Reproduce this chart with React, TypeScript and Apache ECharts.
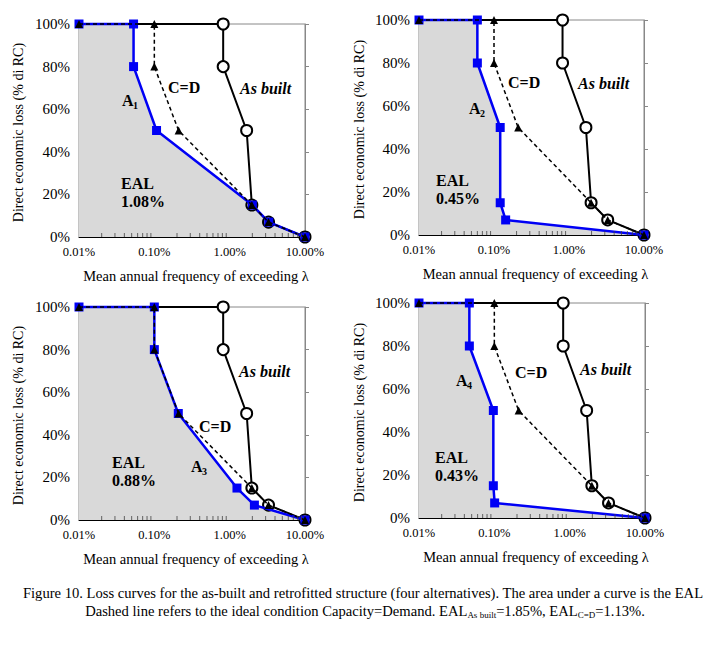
import React, { useEffect, useRef } from "react";
import * as echarts from "echarts";

// ---- data (MAF of exceedance in %, loss in % of RC) ----
const lossLevels = [100, 100, 80, 50, 15, 7, 0];
const asBuiltX = [0.01, 0.82, 0.82, 1.68, 1.97, 3.28, 10];
const cdX = [0.01, 0.1, 0.1, 0.21, 1.97, 3.28, 10];
const a1X = [0.01, 0.053, 0.053, 0.107, 2.0, 3.3, 10];
const a2X = [0.01, 0.06, 0.06, 0.121, 0.121, 0.143, 10];
const a3X = [0.01, 0.1, 0.1, 0.208, 1.25, 2.13, 10];
const a4X = [0.01, 0.0466, 0.0466, 0.097, 0.097, 0.101, 10];
const altNames = ["A1", "A2", "A3", "A4"];
const altX = [a1X, a2X, a3X, a4X];
const ealLabels = ["1.08%", "0.45%", "0.88%", "0.43%"];
const minorTicks = [
  0.02, 0.03, 0.04, 0.05, 0.06, 0.07, 0.08, 0.09,
  0.2, 0.3, 0.4, 0.5, 0.6, 0.7, 0.8, 0.9,
  2, 3, 4, 5, 6, 7, 8, 9,
];

// ---- layout ----
const grids = [
  { left: 79, top: 24, width: 226, height: 213 },
  { left: 419, top: 20, width: 225, height: 215 },
  { left: 79, top: 307, width: 226, height: 213 },
  { left: 419, top: 303, width: 226, height: 215 },
];
// annotation positions per panel
const ann = [
  { cd: [168, 87], ab: [240, 88], a: [122, 100], eal: [121, 183] },
  { cd: [508, 82], ab: [578, 83], a: [469, 108], eal: [436, 180] },
  { cd: [199, 426], ab: [239, 371], a: [191, 466], eal: [112, 462] },
  { cd: [515, 372], ab: [580, 369], a: [456, 380], eal: [435, 457] },
];

const SERIF = '"Liberation Serif", "Times New Roman", serif';
const BLUE = "#0000f5";

const pts = (xs: number[]) => xs.map((x, i) => [x, lossLevels[i]]);

function buildOption() {
  const xAxis: any[] = [];
  const yAxis: any[] = [];
  const series: any[] = [];
  const graphic: any[] = [];

  grids.forEach((g, i) => {
    xAxis.push({
      type: "log",
      logBase: 10,
      gridIndex: i,
      min: 0.01,
      max: 10,
      axisLine: { show: true, lineStyle: { color: "#000", width: 1 } },
      axisTick: { show: false },
      splitLine: { show: false },
      axisLabel: {
        color: "#000",
        fontFamily: SERIF,
        fontSize: 12.5,
        margin: 8,
        formatter: (v: number) => v.toFixed(2) + "%",
      },
    });
    yAxis.push({
      type: "value",
      gridIndex: i,
      min: 0,
      max: 100,
      interval: 20,
      axisLine: { show: true, lineStyle: { color: "#888", width: 1 } },
      axisTick: { show: false },
      splitLine: { show: false },
      axisLabel: {
        color: "#000",
        fontFamily: SERIF,
        fontSize: 15,
        margin: 9,
        formatter: (v: number) => v + "%",
      },
    });
    yAxis.push({
      type: "value",
      gridIndex: i,
      position: "right",
      min: 0,
      max: 100,
      interval: 20,
      axisLine: { show: true, lineStyle: { color: "#888", width: 1 } },
      axisTick: { show: true, inside: false, length: 4, lineStyle: { color: "#888" } },
      splitLine: { show: false },
      axisLabel: { show: false },
    });

    const yIdx = i * 2;
    // shaded EAL area under the alternative curve
    series.push({
      type: "line",
      name: "EAL area " + altNames[i],
      xAxisIndex: i,
      yAxisIndex: yIdx,
      data: pts(altX[i]),
      symbol: "none",
      lineStyle: { width: 0 },
      areaStyle: { color: "#d9d9d9", opacity: 1 },
      silent: true,
      z: 1,
    });
    // As built
    series.push({
      type: "line",
      name: "As built",
      xAxisIndex: i,
      yAxisIndex: yIdx,
      data: pts(asBuiltX).map((p, k) =>
        k === 0 ? { value: p, symbol: "none" } : { value: p }
      ),
      symbol: "emptyCircle",
      symbolSize: 11,
      clip: false,
      lineStyle: { color: "#000", width: 2 },
      itemStyle: { color: "#000", borderColor: "#000", borderWidth: 1.5 },
      z: 2,
    });
    // Alternative A_i
    series.push({
      type: "line",
      name: altNames[i],
      xAxisIndex: i,
      yAxisIndex: yIdx,
      data: pts(altX[i]),
      symbol: "rect",
      symbolSize: 9,
      clip: false,
      lineStyle: { color: BLUE, width: 2.5 },
      itemStyle: { color: BLUE },
      z: 3,
    });
    // C=D
    series.push({
      type: "line",
      name: "C=D",
      xAxisIndex: i,
      yAxisIndex: yIdx,
      data: pts(cdX),
      symbol: "triangle",
      symbolSize: 8,
      clip: false,
      lineStyle: { color: "#000", width: 1.5, type: [4, 3] },
      itemStyle: { color: "#000" },
      z: 4,
    });
    // minor ticks on the log axis
    series.push({
      type: "scatter",
      name: "minor ticks",
      xAxisIndex: i,
      yAxisIndex: yIdx,
      data: minorTicks.map((x) => [x, 0]),
      symbol: "rect",
      symbolSize: [1, 4],
      symbolOffset: [0, -2],
      itemStyle: { color: "#444" },
      silent: true,
      z: 5,
    });

    // axis titles
    graphic.push({
      type: "text",
      x: i % 2 === 0 ? 18 : 359,
      y: g.top + g.height / 2 + 2,
      rotation: Math.PI / 2,
      style: {
        text: "Direct economic loss (% di RC)",
        font: `14px ${SERIF}`,
        fill: "#000",
        textAlign: "center",
        align: "center",
        textVerticalAlign: "middle",
        verticalAlign: "middle",
      },
    });
    graphic.push({
      type: "text",
      x: g.left + g.width / 2 + 4,
      y: g.top + g.height + 39,
      style: {
        text: "Mean annual frequency of exceeding λ",
        font: `14.5px ${SERIF}`,
        fill: "#000",
        textAlign: "center",
        align: "center",
        textVerticalAlign: "middle",
        verticalAlign: "middle",
      },
    });

    const a = ann[i];
    const boldFont = `bold 16px ${SERIF}`;
    const mk = (text: string, x: number, y: number, font: string) => ({
      type: "text",
      x,
      y,
      style: {
        text,
        font,
        fill: "#000",
        textAlign: "left",
        align: "left",
        textVerticalAlign: "middle",
        verticalAlign: "middle",
      },
      z: 100,
    });
    graphic.push(mk("C=D", a.cd[0], a.cd[1], boldFont));
    graphic.push(mk("As built", a.ab[0], a.ab[1], `italic bold 16px ${SERIF}`));
    graphic.push(mk("A", a.a[0], a.a[1], boldFont));
    graphic.push(mk(String(i + 1), a.a[0] + 11, a.a[1] + 5, `bold 10px ${SERIF}`));
    graphic.push(mk("EAL", a.eal[0], a.eal[1], boldFont));
    graphic.push(mk(ealLabels[i], a.eal[0], a.eal[1] + 18, boldFont));
  });

  // caption
  graphic.push({
    type: "text",
    x: 363,
    y: 593,
    style: {
      text:
        "Figure 10. Loss curves for the as-built and retrofitted structure (four alternatives). The area under a curve is the EAL",
      font: `14.6px ${SERIF}`,
      fill: "#000",
      textAlign: "center",
      align: "center",
      textVerticalAlign: "middle",
      verticalAlign: "middle",
    },
  });
  graphic.push({
    type: "text",
    x: 365,
    y: 611,
    style: {
      text:
        "Dashed line refers to the ideal condition Capacity=Demand. EAL{s|As built}=1.85%, EAL{s|C=D}=1.13%.",
      font: `14.6px ${SERIF}`,
      fill: "#000",
      lineHeight: 17,
      textAlign: "center",
      align: "center",
      textVerticalAlign: "middle",
      verticalAlign: "middle",
      rich: {
        s: {
          fontSize: 9,
          fontFamily: SERIF,
          fill: "#000",
          lineHeight: 9,
          verticalAlign: "bottom",
        },
      },
    },
  });

  return {
    animation: false,
    backgroundColor: "#fff",
    grid: grids.map((g) => ({
      ...g,
      show: true,
      borderColor: "#888",
      borderWidth: 1,
      backgroundColor: "transparent",
    })),
    xAxis,
    yAxis,
    series,
    graphic,
  };
}

export default function App() {
  const ref = useRef<HTMLDivElement>(null);
  useEffect(() => {
    if (!ref.current) return;
    const chart = echarts.init(ref.current, undefined, { renderer: "svg" });
    chart.setOption(buildOption() as any);
    return () => chart.dispose();
  }, []);
  return (
    <div
      ref={ref}
      style={{ position: "fixed", left: 0, top: 0, width: 706, height: 657, background: "#fff" }}
    />
  );
}
